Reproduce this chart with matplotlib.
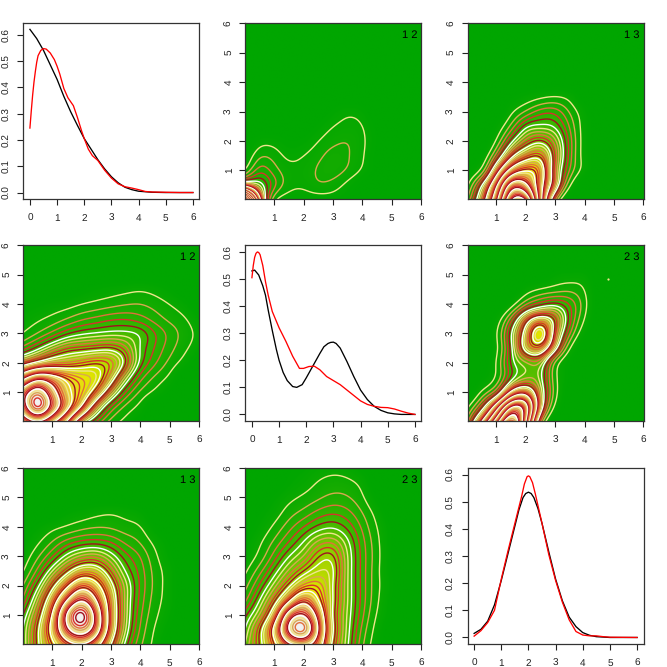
import numpy as np
import matplotlib
matplotlib.use("Agg")
import matplotlib.pyplot as plt
from matplotlib.colors import LinearSegmentedColormap

# density curves
x_11_black = [0, .25, .5, .75, 1, 1.25, 1.5, 1.75, 2, 2.25, 2.5, 2.75, 3, 3.25, 3.5, 3.75, 4, 4.5, 5, 6]
y_11_black = [.62, .585, .54, .485, .43, .365, .307, .255, .205, .165, .125, .09, .06, .037, .02, .011, .005, .001, 0, 0]
x_11_red = [0, .05, .1, .15, .2, .25, .3, .4, .5, .6, .75, .9, 1, 1.1, 1.25, 1.4, 1.6, 1.75, 1.9, 2, 2.15, 2.3, 2.5, 2.75, 3, 3.25, 3.5, 3.75, 4, 4.25, 4.5, 5, 5.5, 6]
y_11_red = [.245, .31, .37, .42, .46, .495, .52, .54, .547, .545, .53, .505, .48, .45, .395, .36, .33, .285, .235, .205, .165, .14, .122, .085, .055, .033, .022, .017, .011, .004, .002, .001, 0, 0]

x_22_black = [0, .1, .25, .4, .5, .6, .75, .9, 1, 1.15, 1.3, 1.5, 1.65, 1.85, 2, 2.25, 2.5, 2.65, 2.8, 2.9, 3, 3.1, 3.25, 3.5, 3.75, 4, 4.25, 4.5, 4.75, 5, 5.25, 5.5, 6]
y_22_black = [.53, .533, .515, .475, .44, .385, .31, .24, .2, .155, .125, .103, .1, .11, .135, .18, .225, .25, .262, .266, .267, .262, .245, .195, .14, .09, .055, .03, .015, .006, .002, 0, 0]
x_22_red = [0, .05, .1, .15, .2, .25, .3, .4, .5, .6, .75, 1, 1.25, 1.5, 1.75, 1.9, 2.1, 2.3, 2.5, 2.75, 3, 3.25, 3.5, 3.75, 4, 4.25, 4.5, 4.75, 5, 5.25, 5.5, 5.75, 6]
y_22_red = [.505, .55, .58, .595, .6, .598, .59, .55, .49, .44, .38, .32, .27, .215, .17, .17, .177, .178, .165, .14, .125, .11, .09, .07, .05, .037, .03, .026, .025, .02, .012, .005, 0]

x_33_black = [0, .25, .5, .75, 1, 1.25, 1.5, 1.65, 1.8, 1.9, 2, 2.1, 2.2, 2.35, 2.5, 2.75, 3, 3.25, 3.5, 3.75, 4, 4.25, 4.5, 5, 6]
y_33_black = [.015, .03, .06, .12, .21, .31, .41, .47, .515, .53, .535, .53, .515, .475, .42, .315, .215, .135, .075, .04, .018, .008, .003, 0, 0]
x_33_red = [0, .25, .5, .75, 1, 1.25, 1.5, 1.75, 1.85, 1.95, 2, 2.05, 2.15, 2.25, 2.5, 2.75, 3, 3.25, 3.5, 3.75, 4, 4.25, 4.5, 4.75, 5, 6]
y_33_red = [.005, .025, .055, .1, .215, .32, .42, .52, .565, .592, .595, .592, .57, .53, .42, .305, .21, .13, .065, .022, .009, .006, .006, .003, .001, 0]

# density surfaces: contour number read at x = 0, .5, 1 ... and y = 0, .5, 1 ...
# (one row per y, missing cells are zero)
z_top_12 = [
    [60, 13, 1.2, .5, .5, .5, .5, .2],
    [9, 7, 3.5, 1.4, 1.2, 1.9, 1.6, .7, .1],
    [1, 3.8, 2.4, 1.4, 1.4, 2.2, 2.6, 1.9, .9, .1],
    [.2, 1.9, 1.6, .7, 1, 1.7, 2.5, 2.1, 1.2, .1],
    [0, .6, .6, .2, .3, 1, 1.7, 2, 1.3, .2],
    [0, 0, 0, 0, 0, .3, 1, 1.3, 1.1, .1],
    [0, 0, 0, 0, 0, 0, .3, .8, .5],
]
z_top_13 = [
    [2, 9, 22, 42, 42, 20, 3],
    [.8, 6, 17, 33, 31, 20, 9, 1.1],
    [.1, 1.1, 9.5, 20, 24, 21.5, 9, 2.9, .6],
    [0, .2, 3.5, 11, 15.5, 17, 10, 3.5, .5],
    [0, 0, 1.1, 5.5, 9.5, 11.5, 8.5, 3.6, .5],
    [0, 0, .3, 2.3, 5.8, 6.3, 5.8, 2.9, .5],
    [0, 0, 0, .8, 2.1, 3.6, 3.7, 1.9, .4],
    [0, 0, 0, .1, .4, .8, 1.1, .7],
]
z_top_23 = [
    [2.5, 12, 27, 42, 25, 3, 0],
    [.8, 4.5, 15, 31, 28, 8, .7],
    [0, 1.2, 3.5, 13, 16.5, 8, 1.5],
    [0, .1, 1.1, 5, 7.5, 6.8, 1.2, .1],
    [0, 0, 1.1, 5.5, 7.5, 8, 1.5, .1],
    [0, 0, .7, 5.5, 14, 16, 7.5, 1],
    [0, 0, .9, 6, 13.5, 22, 10, 3.2, .3],
    [0, 0, .4, 3.5, 10, 14, 11, 4.5, 1],
    [0, 0, 0, .5, 2.8, 4.5, 5.5, 4, 1.5],
    [0, 0, 0, 0, .5, 1.1, 1.4, 1.7, 1.05],
    [0, 0, 0, 0, 0, 0, .3, .4, .4],
]
z_low_12 = [
    [26, 30, 25, 18, 8, 4, 1.6, .7, .1],
    [33, 42, 34, 26, 18, 9, 3.8, 1.7, .7],
    [33, 39, 32, 25, 21.5, 16, 9, 4, 1.8, .8, .1],
    [22, 28, 26, 23, 21, 19.5, 14, 7.5, 3.4, 1.8, .8],
    [10, 12.5, 14.5, 15, 16, 17, 16, 11.5, 5.5, 3.2, 1.7, .6],
    [3.4, 5.5, 8, 10, 10.5, 11, 11.3, 9.5, 5.8, 3.9, 2.4, 1.3, .4],
    [1, 2, 3.3, 4.8, 5.7, 6.1, 6.4, 6.4, 5.9, 4.1, 2.7, 1.6, .7],
    [.4, .8, 1.3, 2, 2.8, 3.3, 3.8, 3.9, 3.4, 2.5, 1.7, 1.15, .3],
    [.1, .2, .4, .6, 1, 1.3, 1.6, 1.9, 2, 1.6, 1, .4],
    [0, 0, 0, 0, .1, .3, .5, .7, .9, .6, .2],
]
z_low_13 = [
    [6, 11.5, 17, 22, 24, 20, 12, 5.5, 2.2, .7],
    [6, 11.5, 19.5, 29, 33, 27, 15, 7, 2.8, .9, .1],
    [5, 10, 18, 31, 37, 28, 15.5, 7.5, 3.2, 1.25, .3],
    [3.2, 8, 15, 24, 30, 24, 15, 7.5, 3.6, 1.5, .5],
    [2, 5.5, 11, 17, 22.5, 19.5, 13, 7.5, 3.8, 1.7, .5],
    [.9, 3.3, 7, 11, 14.5, 14, 10, 5.8, 3.6, 1.6, .5],
    [.4, 1.8, 3.9, 6.5, 8.3, 8.8, 6.8, 4.4, 3, 1.25, .2],
    [.1, .8, 2, 3.4, 4.2, 4.4, 3.9, 2.7, 1.9, .7, .1],
    [0, .2, .7, 1.1, 1.6, 1.9, 1.8, 1.4, 1.1, .1],
    [0, 0, 0, .2, .4, .7, .9, .6, .3],
]
z_low_23 = [
    [7, 11, 17, 23, 25, 21, 11, 6.3, 2.2, .4],
    [6, 11, 19, 31, 35, 24, 12, 6.6, 2.7, .6],
    [4.7, 8, 14.5, 27, 30, 22, 11.5, 6.8, 3.3, .9, .1],
    [2.7, 6, 10.5, 17, 23, 18, 12, 7, 3.6, 1.2, .1],
    [1.6, 4.2, 7.5, 11.5, 15.5, 16, 12, 7, 3.6, 1.3, .2],
    [.8, 2.6, 5.3, 8.3, 11, 13, 12.5, 7, 3.6, 1.3, .1],
    [.3, 1.3, 3.5, 6, 8, 11, 11.5, 7, 3.6, 1.4, .1],
    [.1, .8, 2.2, 4, 6, 8.3, 8.8, 6.3, 3.4, 1.3, .1],
    [0, .3, 1.2, 2.6, 4, 5.3, 5.8, 4.7, 2.8, 1, .1],
    [0, .1, .5, 1.5, 2.3, 3.3, 3.8, 3.3, 2, .6],
    [0, 0, .2, .7, 1.2, 1.8, 2.3, 2.1, 1.2, .1],
    [0, 0, 0, .2, .5, 1.1, 1.4, 1.3, .7],
    [0, 0, 0, .1, .2, .5, .7, .5, .1],
]
# the lone speck in the upper 2-3 panel
speck_x = [4.8]
speck_y = [4.84]

tick_labels = ["0", "1", "2", "3", "4", "5", "6"]
level_colors = ["#F0E68C", "#D9A850", "#E0703C", "#D8302C", "#A01020", "#FFFFFF"]
terrain = LinearSegmentedColormap.from_list(
    "terrain_r", [(0, "#00A600"), (.5, "#E6E600"), (.75, "#ECB176"), (1, "#F2F2F2")])


def smooth_axis(a, axis, t):
    # Catmull-Rom through the read cells, so that the contours are not angular
    a = np.moveaxis(a, axis, 0)
    p = np.concatenate([[2 * a[0] - a[1]], a, [2 * a[-1] - a[-2]]])
    i = np.clip(t.astype(int), 0, len(a) - 2)
    u = (t - i).reshape((-1,) + (1,) * (a.ndim - 1))
    out = .5 * (2 * p[i + 1] + (p[i + 2] - p[i]) * u
                + (2 * p[i] - 5 * p[i + 1] + 4 * p[i + 2] - p[i + 3]) * u**2
                + (3 * p[i + 1] - p[i] - 3 * p[i + 2] + p[i + 3]) * u**3)
    return np.moveaxis(out, 0, axis)


def blur(z, width):
    # three box passes along both axes take the reading noise out of the contours
    kernel = np.ones(width) / width
    for axis in (0, 1):
        for _ in range(3):
            pad = [(width, width) if a == axis else (0, 0) for a in (0, 1)]
            padded = np.pad(z, pad, mode="reflect", reflect_type="odd")
            z = np.apply_along_axis(lambda v: np.convolve(v, kernel, "same"), axis, padded)
            z = z[width:-width] if axis == 0 else z[:, width:-width]
    return z


def surface(rows):
    grid = np.zeros((13, 13))
    for j, row in enumerate(rows):
        grid[j, :len(row)] = row
    xs = np.linspace(0, 6, 301)
    z = smooth_axis(smooth_axis(np.sqrt(grid), 0, xs / .5), 1, xs / .5)
    z = blur(np.clip(z, 0, None), 15)
    return xs, np.clip(z, 0, None) ** 2


def style(ax, first_x):
    ax.set_xticks(range(first_x, 7))
    ax.set_xticklabels(tick_labels[first_x:])
    ax.tick_params(length=4.3, width=.8, labelsize=7.2, color="#222222", labelcolor="#222222")
    ax.tick_params(axis="x", pad=6)
    ax.tick_params(axis="y", pad=4)
    for label in ax.get_yticklabels():
        label.set_rotation(90)
        label.set_va("center")
    for s in ax.spines.values():
        s.set_linewidth(.9)
        s.set_color("#333333")


def draw_curves(ax, xb, yb, xr, yr, ylim):
    ax.plot(xb, yb, color="black", lw=.95)
    ax.plot(xr, yr, color="red", lw=.95)
    ax.set_xlim(-.24, 6.24)
    ax.set_ylim(*ylim)
    ax.set_yticks([0, .1, .2, .3, .4, .5, .6])
    ax.set_yticklabels(["0.0", "0.1", "0.2", "0.3", "0.4", "0.5", "0.6"])
    style(ax, 0)


def draw_surface(ax, rows, name):
    xs, z = surface(rows)
    ax.imshow(z, origin="lower", extent=[0, 6, 0, 6], cmap=terrain, vmin=0, vmax=z.max(),
              aspect="auto", interpolation="bilinear")
    levels = np.arange(1, z.max())
    colors = [level_colors[(int(v) - 1) % 6] for v in levels]
    ax.contour(xs, xs, z, levels=levels, colors=colors, linewidths=1.0)
    ax.set_xlim(.02, 6.01)
    ax.set_ylim(.015, 6)
    ax.set_yticks(range(1, 7))
    ax.set_yticklabels(tick_labels[1:])
    ax.text(5.62, 5.6, name, fontsize=8, ha="center", va="center", color="black")
    style(ax, 1)


plt.rcParams["font.family"] = ["Liberation Sans", "DejaVu Sans"]
plt.rcParams["text.hinting"] = "none"
fig = plt.figure(figsize=(6.67, 6.67), dpi=100)
lefts = [23.4, 245.4, 467.6]
tops = [23.3, 245.2, 468]
side = 176.0
axes = [[fig.add_axes([l / 667, 1 - (t + side) / 667, side / 667, side / 667]) for l in lefts] for t in tops]

draw_curves(axes[0][0], x_11_black, y_11_black, x_11_red, y_11_red, (-.0257, .643))
draw_surface(axes[0][1], z_top_12, "1 2")
draw_surface(axes[0][2], z_top_13, "1 3")
draw_surface(axes[1][0], z_low_12, "1 2")
draw_curves(axes[1][1], x_22_black, y_22_black, x_22_red, y_22_red, (-.025, .625))
draw_surface(axes[1][2], z_top_23, "2 3")
axes[1][2].plot(speck_x, speck_y, "o", ms=1.6, mew=0, color="#F0E68C")
draw_surface(axes[2][0], z_low_13, "1 3")
draw_surface(axes[2][1], z_low_23, "2 3")
draw_curves(axes[2][2], x_33_black, y_33_black, x_33_red, y_33_red, (-.024, .624))

fig.savefig("out.png", dpi=100)
